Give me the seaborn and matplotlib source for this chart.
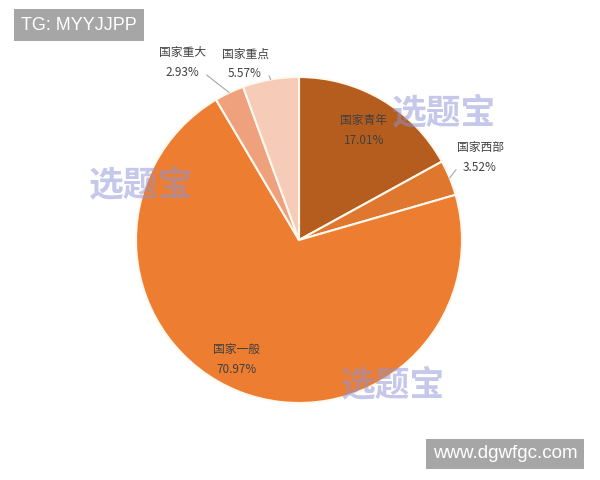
import numpy as np
import matplotlib
matplotlib.use("Agg")
import matplotlib.pyplot as plt
import seaborn as sns

sns.set_style("white")
plt.rcParams['font.family'] = ['Noto Sans CJK SC', 'DejaVu Sans']

# data, clockwise from 12 o'clock
labels = ['国家青年', '国家西部', '国家一般', '国家重大', '国家重点']
shares = [17.01, 3.52, 70.97, 2.93, 5.57]
colors = ['#B55D1E', '#E0772E', '#ED7D31', '#EFA07C', '#F6CCB9']

# label placement: radius factor, angle tweak (deg)
lab_r = [0.78, 1.22, 0.83, 1.30, 1.13]
lab_da = [0, 2, -6, 8, 7]
leader = [False, True, False, True, True]

fig = plt.figure(figsize=(6, 4.8), dpi=100)
ax = fig.add_axes([0, 0, 1, 1])

cx, cy, R = 299, 240, 163
wedges, _ = ax.pie(shares, colors=colors, startangle=90, counterclock=False,
                   center=(cx, cy), radius=R, frame=True,
                   wedgeprops=dict(edgecolor='#FFF8EE', linewidth=1.5))
ax.set_xlim(0, 600)
ax.set_ylim(0, 480)
ax.set_aspect('equal')
ax.axis('off')

for w, name, val, rf, da, ld in zip(wedges, labels, shares, lab_r, lab_da, leader):
    mid = np.deg2rad((w.theta1 + w.theta2) / 2)
    ang = mid + np.deg2rad(da)
    tx = cx + rf * R * np.cos(ang)
    ty = cy + rf * R * np.sin(ang)
    ax.text(tx, ty + 10, name, ha='center', va='center', fontsize=8.5, color='#404040')
    ax.text(tx, ty - 10, f'{val:.2f}%', ha='center', va='center', fontsize=8.5, color='#404040')
    if ld:
        ex, ey = cx + R * np.cos(mid), cy + R * np.sin(mid)
        lx = tx + (24 if np.cos(mid) < 0 else -24)
        ax.plot([ex, lx], [ey, ty - 12], color='#A6A6A6', lw=0.8)

# watermarks
for wx, wy in [(444, 367), (141, 295), (393, 95)]:
    ax.text(wx, wy, '选题宝', ha='center', va='center', fontsize=25, fontweight='bold',
            color='#8D93D6', alpha=0.5, zorder=5)

ax.text(79, 455, 'TG: MYYJJPP', ha='center', va='center', fontsize=13, color='white',
        family='Liberation Sans',
        bbox=dict(boxstyle='square,pad=0.42', fc='#A6A6A6', ec='none'))
ax.text(505, 26, 'www.dgwfgc.com', ha='center', va='center', fontsize=13.5, color='white',
        family='Liberation Sans',
        bbox=dict(boxstyle='square,pad=0.35', fc='#A6A6A6', ec='none'))

fig.savefig('out.png', dpi=100)
